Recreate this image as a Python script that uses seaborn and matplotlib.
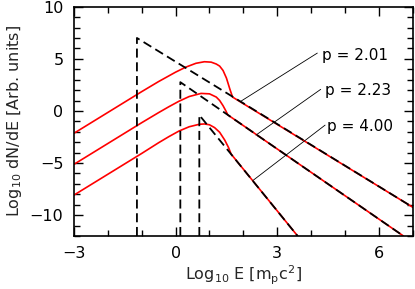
import pandas as pd
import matplotlib
matplotlib.use("Agg")
import matplotlib.pyplot as plt
from matplotlib.ticker import MultipleLocator
import seaborn as sns

# values (log10 E, log10 dN/dE)
E1 = [-3.0, -1.0, -0.5, 0.0, 0.3, 0.6, 0.85, 1.05, 1.2, 1.3, 1.4, 1.5, 1.6, 1.68, 7.0]
y1 = [-2.15, 1.85, 2.82, 3.72, 4.2, 4.57, 4.72, 4.68, 4.5, 4.3, 3.88, 3.15, 2.1, 1.33, -9.25]

E2 = [-3.0, -1.0, -0.5, -0.2, 0.1, 0.4, 0.75, 1.0, 1.2, 1.3, 1.4, 1.48, 1.54, 6.72]
y2 = [-5.13, -1.13, -0.16, 0.4, 0.93, 1.38, 1.68, 1.64, 1.33, 1.0, 0.5, 0.02, -0.38, -12.0]

E3 = [-3.0, -1.0, -0.5, -0.2, 0.1, 0.4, 0.7, 0.85, 1.0, 1.15, 1.3, 1.45, 1.56, 1.64, 3.6]
y3 = [-8.08, -4.08, -3.05, -2.47, -1.93, -1.52, -1.28, -1.25, -1.33, -1.6, -2.05, -2.8, -3.5, -4.15, -12.0]

# dashed injection spectra: vertical edge then power law
D1_E = [-1.14, -1.14, 7.0]
D1_y = [-12.0, 7.0, -9.25]
D2_E = [0.14, 0.14, 6.72]
D2_y = [-12.0, 2.76, -12.0]
D3_E = [0.70, 0.70, 3.6]
D3_y = [-12.0, -0.4, -12.0]

labels = ["p = 2.01", "p = 2.23", "p = 4.00"]
label_pos = [(4.32, 5.36), (4.41, 1.93), (4.48, -1.52)]
pointer_from = [(4.18, 5.55), (4.28, 2.07), (4.41, -1.36)]
pointer_to = [(1.94, 0.96), (2.37, -2.32), (2.27, -6.70)]

sns.set_theme(style="ticks")
plt.rcParams["font.family"] = ["DejaVu Sans"]
plt.rcParams["mathtext.default"] = "regular"

fig = plt.figure(figsize=(4.15, 2.89), dpi=100)
ax = fig.add_axes([0.178, 0.1834, 0.817, 0.7934])

for E, y in [(E1, y1), (E2, y2), (E3, y3)]:
    sns.lineplot(x=E, y=y, sort=False, estimator=None, color="red", lw=1.2, ax=ax)

for E, y in [(D1_E, D1_y), (D2_E, D2_y), (D3_E, D3_y)]:
    sns.lineplot(x=E, y=y, sort=False, estimator=None, color="black", lw=1.3,
                 dashes=False, ax=ax).lines[-1].set_dashes([5, 2.6])

for txt, (tx, ty), (fx, fy), (px, py) in zip(labels, label_pos, pointer_from, pointer_to):
    ax.plot([fx, px], [fy, py], color="black", lw=0.6)
    ax.text(tx, ty, txt, ha="left", va="center", fontsize=11, color="black")

ax.set_xlim(-3, 7)
ax.set_ylim(-12, 10)
ax.xaxis.set_major_locator(MultipleLocator(3))
ax.xaxis.set_minor_locator(MultipleLocator(1))
ax.yaxis.set_major_locator(MultipleLocator(5))
ax.yaxis.set_minor_locator(MultipleLocator(1))
ax.tick_params(which="both", direction="in", top=True, right=True,
               colors="black", width=1.0, labelsize=11.5, pad=7.5)
ax.tick_params(which="major", length=6.7)
ax.tick_params(which="minor", length=4.3)
for s in ax.spines.values():
    s.set_linewidth(1.2)
    s.set_color("black")

ax.set_xlabel("Log$_{10}$ E [m$_p$c$^2$]", fontsize=11.5, labelpad=2)
ax.set_ylabel("Log$_{10}$ dN/dE [Arb. units]", fontsize=11.5, labelpad=4)

fig.savefig("out.png", dpi=100)
